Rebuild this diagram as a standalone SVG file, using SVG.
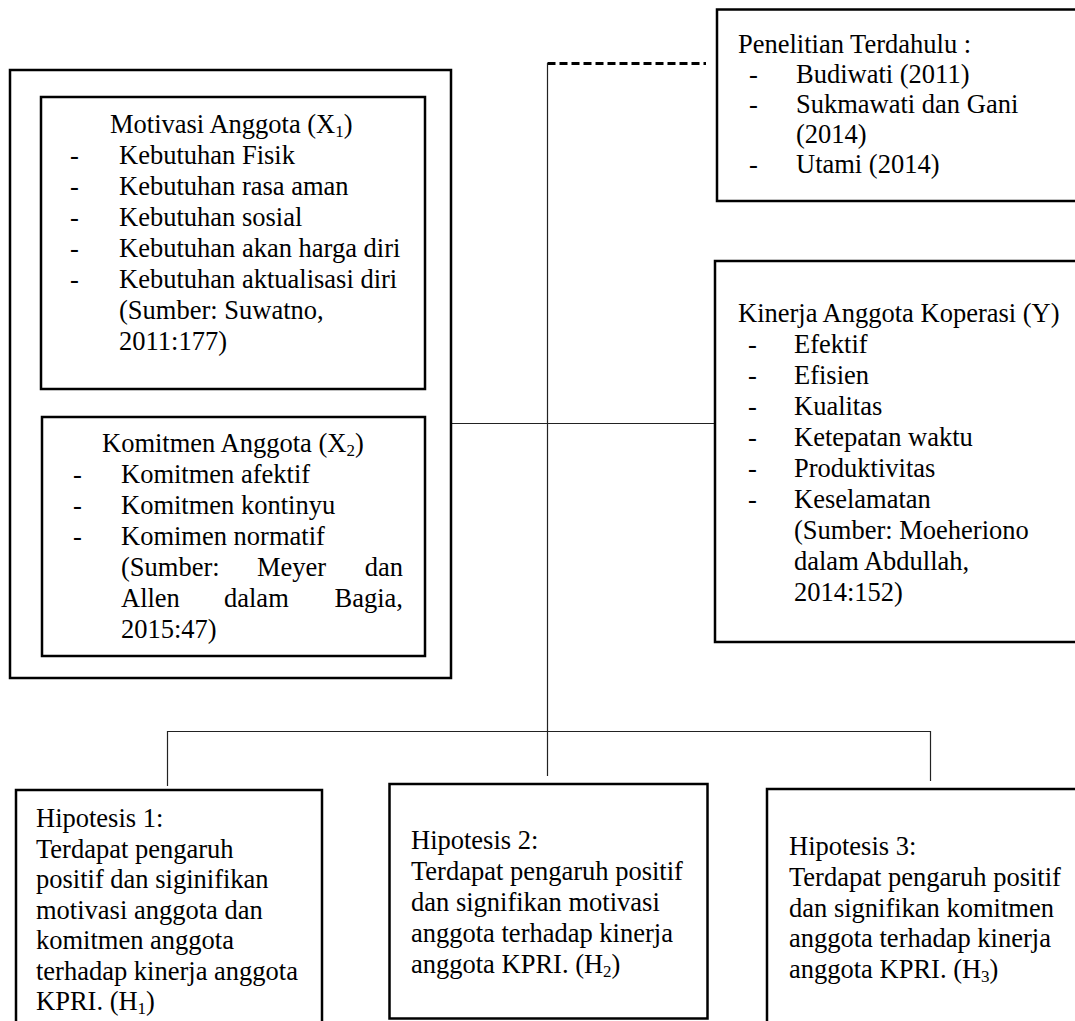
<svg xmlns="http://www.w3.org/2000/svg" width="1075" height="1021" viewBox="0 0 1075 1021">
<style>
.box{fill:none;stroke:#000;stroke-width:2.5}
.t{font-family:"Liberation Serif","Times New Roman",serif;font-size:26.5px;fill:#000}
.sub{font-size:17px}
.conn{stroke:#222;stroke-width:1.2;fill:none}
.dash{stroke:#000;stroke-width:3;stroke-dasharray:8 4;fill:none}
</style>
<rect width="1075" height="1021" fill="#fff"/>

<g id="connectors">
  <path class="dash" d="M547.5,63.5 H706"/>
  <path class="conn" d="M547.5,63 V776"/>
  <path class="conn" d="M451,423.5 H715"/>
  <path class="conn" d="M167.5,731.5 H930.5"/>
  <path class="conn" d="M167.5,731 V786"/>
  <path class="conn" d="M930.5,731 V781"/>
</g>

<g id="variabel-x">
  <rect class="box" x="10" y="70" width="441" height="608"/>
  <g id="motivasi">
    <rect class="box" x="41" y="97" width="384" height="292"/>
    <text class="t" x="110" y="133">Motivasi Anggota (X<tspan class="sub" dy="4">1</tspan><tspan dy="-4">)</tspan></text>
    <text class="t" x="70" y="164">-</text><text class="t" x="119" y="164">Kebutuhan Fisik</text>
    <text class="t" x="70" y="195">-</text><text class="t" x="119" y="195">Kebutuhan rasa aman</text>
    <text class="t" x="70" y="226">-</text><text class="t" x="119" y="226">Kebutuhan sosial</text>
    <text class="t" x="70" y="257">-</text><text class="t" x="119" y="257">Kebutuhan akan harga diri</text>
    <text class="t" x="70" y="288">-</text><text class="t" x="119" y="288">Kebutuhan aktualisasi diri</text>
    <text class="t" x="119" y="319">(Sumber: Suwatno,</text>
    <text class="t" x="119" y="350">2011:177)</text>
  </g>
  <g id="komitmen">
    <rect class="box" x="42" y="417" width="383" height="239"/>
    <text class="t" x="102" y="452">Komitmen Anggota (X<tspan class="sub" dy="4">2</tspan><tspan dy="-4">)</tspan></text>
    <text class="t" x="73" y="483">-</text><text class="t" x="121" y="483">Komitmen afektif</text>
    <text class="t" x="73" y="514">-</text><text class="t" x="121" y="514">Komitmen kontinyu</text>
    <text class="t" x="73" y="545">-</text><text class="t" x="121" y="545">Komimen normatif</text>
    <text class="t" x="121" y="576">(Sumber:</text>
    <text class="t" x="257" y="576">Meyer</text>
    <text class="t" x="403" y="576" text-anchor="end">dan</text>
    <text class="t" x="121" y="607">Allen</text>
    <text class="t" x="224" y="607">dalam</text>
    <text class="t" x="403" y="607" text-anchor="end">Bagia,</text>
    <text class="t" x="121" y="638">2015:47)</text>
  </g>
</g>

<g id="penelitian">
  <rect class="box" x="717" y="9.5" width="370" height="191.5"/>
  <text class="t" x="738" y="53">Penelitian Terdahulu :</text>
  <text class="t" x="749" y="83">-</text><text class="t" x="796" y="83">Budiwati (2011)</text>
  <text class="t" x="749" y="113">-</text><text class="t" x="796" y="113">Sukmawati dan Gani</text>
  <text class="t" x="796" y="143">(2014)</text>
  <text class="t" x="749" y="173">-</text><text class="t" x="796" y="173">Utami (2014)</text>
</g>

<g id="kinerja">
  <rect class="box" x="715" y="261" width="370" height="381"/>
  <text class="t" x="738" y="322">Kinerja Anggota Koperasi (Y)</text>
  <text class="t" x="748" y="353">-</text><text class="t" x="794" y="353">Efektif</text>
  <text class="t" x="748" y="384">-</text><text class="t" x="794" y="384">Efisien</text>
  <text class="t" x="748" y="415">-</text><text class="t" x="794" y="415">Kualitas</text>
  <text class="t" x="748" y="446">-</text><text class="t" x="794" y="446">Ketepatan waktu</text>
  <text class="t" x="748" y="477">-</text><text class="t" x="794" y="477">Produktivitas</text>
  <text class="t" x="748" y="508">-</text><text class="t" x="794" y="508">Keselamatan</text>
  <text class="t" x="794" y="539">(Sumber: Moeheriono</text>
  <text class="t" x="794" y="570">dalam Abdullah,</text>
  <text class="t" x="794" y="601">2014:152)</text>
</g>

<g id="hipotesis-1">
  <rect class="box" x="16" y="790" width="306" height="250"/>
  <text class="t" x="36" y="827">Hipotesis 1:</text>
  <text class="t" x="36" y="857.5">Terdapat pengaruh</text>
  <text class="t" x="36" y="888">positif dan siginifikan</text>
  <text class="t" x="36" y="918.5">motivasi anggota dan</text>
  <text class="t" x="36" y="949">komitmen anggota</text>
  <text class="t" x="36" y="979.5">terhadap kinerja anggota</text>
  <text class="t" x="36" y="1010">KPRI. (H<tspan class="sub" dy="4">1</tspan><tspan dy="-4">)</tspan></text>
</g>

<g id="hipotesis-2">
  <rect class="box" x="389.5" y="784" width="318" height="234.5"/>
  <text class="t" x="411" y="849">Hipotesis 2:</text>
  <text class="t" x="411" y="880">Terdapat pengaruh positif</text>
  <text class="t" x="411" y="911">dan signifikan motivasi</text>
  <text class="t" x="411" y="942">anggota terhadap kinerja</text>
  <text class="t" x="411" y="973">anggota KPRI. (H<tspan class="sub" dy="4">2</tspan><tspan dy="-4">)</tspan></text>
</g>

<g id="hipotesis-3">
  <rect class="box" x="767" y="789" width="320" height="250"/>
  <text class="t" x="789" y="855">Hipotesis 3:</text>
  <text class="t" x="789" y="886">Terdapat pengaruh positif</text>
  <text class="t" x="789" y="916.5">dan signifikan komitmen</text>
  <text class="t" x="789" y="947">anggota terhadap kinerja</text>
  <text class="t" x="789" y="978">anggota KPRI. (H<tspan class="sub" dy="4">3</tspan><tspan dy="-4">)</tspan></text>
</g>
</svg>
